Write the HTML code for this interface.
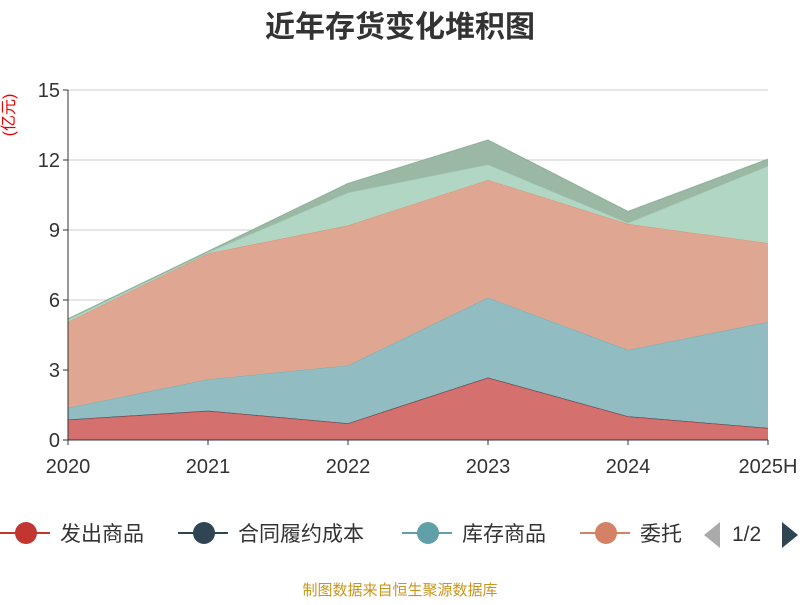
<!DOCTYPE html>
<html><head><meta charset="utf-8"><style>
body{margin:0;background:#fff;}
svg text{font-family:"Liberation Sans","Noto Sans CJK SC",sans-serif;}
</style></head><body>
<svg id="c" width="800" height="600" xmlns="http://www.w3.org/2000/svg">
<text x="400" y="37" text-anchor="middle" font-size="30" font-weight="bold" fill="#333">近年存货变化堆积图</text>
<text transform="translate(14,115) rotate(-90)" text-anchor="middle" font-size="16" fill="#e00">(亿元)</text>
<g id="grid"></g><g id="areas"></g><g id="axes"></g>
<g id="legend"></g>
<text x="400" y="595" text-anchor="middle" font-size="15" fill="#c8961e">制图数据来自恒生聚源数据库</text>
</svg>
<script>
const categories=["2020","2021","2022","2023","2024","2025H"];
const seriesNames=["发出商品","合同履约成本","库存商品","委托加工物资","原材料","其他"];
const s1=[0.86,1.24,0.7,2.66,1.0,0.5];
const s2=[0.02,0.02,0.02,0.02,0.02,0.02];
const s3=[0.5,1.34,2.48,3.42,2.84,4.54];
const s4=[3.68,5.4,6.0,5.05,5.4,3.38];
const s5=[0.1,0.04,1.4,0.65,0.04,3.3];
const s6=[0.04,0.05,0.4,1.06,0.5,0.3];
const yTicks=[0,3,6,9,12,15];
const series=[s1,s2,s3,s4,s5,s6];
const fills=["#d4716e","#4a5c6a","#91bcc2","#dfa791","#b1d6c4","#9bb8a4"];
const strokes=["#c23531","#2f4554","#61a0a8","#d48265","#91c7ae","#749f83"];
const X0=68,X1=768,Y0=440,Y1=90,YMAX=15;
const NS="http://www.w3.org/2000/svg";
const xs=i=>X0+i*(X1-X0)/(categories.length-1);
const ys=v=>Y0-v/YMAX*(Y0-Y1);
function mk(t,a,p){const e=document.createElementNS(NS,t);for(const k in a)e.setAttribute(k,a[k]);p.appendChild(e);return e;}
const grid=document.getElementById('grid'),axes=document.getElementById('axes'),areas=document.getElementById('areas');
yTicks.forEach(v=>{
 if(v>0){const l=mk('line',{x1:X0,x2:X1,y1:ys(v),y2:ys(v),stroke:'#ccc','stroke-width':1},grid);
 }
 const t=mk('text',{x:X0-8,y:ys(v)+7,'text-anchor':'end','font-size':20,fill:'#333'},axes);t.textContent=v;
 
 const tk=mk('line',{x1:X0-5,x2:X0,y1:ys(v),y2:ys(v),stroke:'#333'},axes);
 
});
let base=categories.map(()=>0);
series.forEach((s,k)=>{
 const top=base.map((b,i)=>b+s[i]);
 let d='M'+top.map((v,i)=>xs(i)+','+ys(v)).join(' L');
 for(let i=categories.length-1;i>=0;i--)d+=' L'+xs(i)+','+ys(base[i]);
 const p=mk('path',{d:d+'Z',fill:fills[k],stroke:'none'},areas);
 
 const l=mk('polyline',{points:top.map((v,i)=>xs(i)+','+ys(v)).join(' '),fill:'none',stroke:strokes[k],'stroke-width':1,'stroke-opacity':0.6},areas);
 
 base=top;
});
const ax=mk('line',{x1:X0,x2:X0,y1:Y1,y2:Y0,stroke:'#333'},axes);

const bx=mk('line',{x1:X0,x2:X1,y1:Y0,y2:Y0,stroke:'#333'},axes);

categories.forEach((c,i)=>{
 const tk=mk('line',{x1:xs(i),x2:xs(i),y1:Y0,y2:Y0+5,stroke:'#333'},axes);
 
 const t=mk('text',{x:xs(i),y:Y0+33,'text-anchor':'middle','font-size':20,fill:'#333'},axes);t.textContent=c;
 
});
const leg=document.getElementById('legend');
const lx=[0,178,402,580];
[0,1,2,3].forEach(k=>{
 const g=mk('g',{},leg);
 
 mk('line',{x1:lx[k],x2:lx[k]+50,y1:533,y2:533,stroke:strokes[k],'stroke-width':2},g);
 mk('circle',{cx:lx[k]+26,cy:533,r:11,fill:strokes[k]},g);
 const t=mk('text',{x:lx[k]+60,y:541,'font-size':21,fill:'#333'},g);
 t.textContent=k==3?'委托':seriesNames[k];
});
const pg=mk('g',{},leg);

mk('path',{d:'M720,522 L704,535 L720,548Z',fill:'#aaa'},pg);
const pt=mk('text',{x:732,y:541,'font-size':21,fill:'#333'},pg);pt.textContent='1/2';
mk('path',{d:'M782,522 L798,535 L782,548Z',fill:'#2f4554'},pg);
</script>
</body></html>
